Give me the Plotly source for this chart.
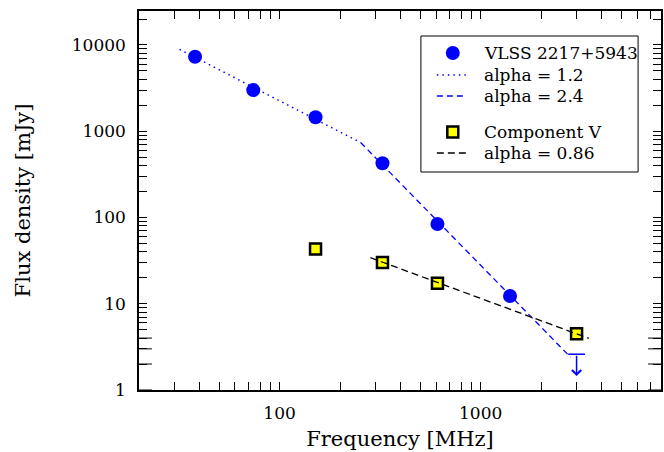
import math
import plotly.graph_objects as go

# ---- data ----
vlss_freq = [38, 74, 151, 325, 610, 1400]
vlss_flux = [7300, 3000, 1450, 425, 84, 12.3]

comp_freq = [151, 325, 610, 3000]
comp_flux = [43, 30, 17.3, 4.5]

limit_freq = [3000]
limit_flux = [2.6]
limit_arrow_to = [1.45]

fit12_freq = [31.8, 253]
fit12_flux = [8900, 740]
fit24_freq = [253, 2800]
fit24_flux = [740, 2.4]
fit086_freq = [283, 3450]
fit086_flux = [34.2, 3.97]

x_major = [100, 1000]
x_major_text = ["100", "1000"]
y_major = [1, 10, 100, 1000, 10000]
y_major_text = ["1", "10", "100", "1000", "10000"]

legend_labels = ["VLSS 2217+5943", "alpha = 1.2", "alpha = 2.4", "Component V", "alpha = 0.86"]

FONT = "DejaVu Serif"
BLUE = "#0000ff"
XR = [math.log10(20.0), 3.897]
YR = [0, 4.394]

# plot-area geometry in pixels (for legend box and long major ticks)
L, R, T, B = 139, 663, 11, 390
W, H = R - L, B - T
def px(x):
    return (x - L) / W
def py(y):
    return (B - y) / H

MAJOR_LEN, MINOR_LEN = 13, 8

# all tick positions (majors + minors) in range
def log_ticks(lo, hi):
    vals = []
    for k in range(int(math.floor(lo)) - 1, int(math.ceil(hi)) + 1):
        for m in range(1, 10):
            v = m * 10 ** k
            if lo - 1e-9 <= math.log10(v) <= hi + 1e-9:
                vals.append(v)
    return vals

x_all = log_ticks(*XR)
y_all = log_ticks(*YR)
x_text = [x_major_text[x_major.index(v)] if v in x_major else "" for v in x_all]
y_text = [y_major_text[y_major.index(v)] if v in y_major else "" for v in y_all]

styles = [
    dict(kind="marker", symbol="circle", size=14, color=BLUE, line=dict(width=0)),
    dict(kind="line", color=BLUE, width=1.5, dash="1.5px,4px"),
    dict(kind="line", color=BLUE, width=1.3, dash="6px,4px"),
    dict(kind="marker", symbol="square", size=11, color="#ffff00",
         line=dict(color="black", width=2.5)),
    dict(kind="line", color="black", width=1.3, dash="7px,4px"),
]

fig = go.Figure()

series = [(vlss_freq, vlss_flux), (fit12_freq, fit12_flux), (fit24_freq, fit24_flux),
          (comp_freq, comp_flux), (fit086_freq, fit086_flux)]
for (xs, ys), name, st in zip(series, legend_labels, styles):
    if st["kind"] == "marker":
        fig.add_trace(go.Scatter(
            x=xs, y=ys, mode="markers", name=name, showlegend=False,
            marker=dict(symbol=st["symbol"], size=st["size"], color=st["color"],
                        line=st["line"])))
    else:
        fig.add_trace(go.Scatter(
            x=xs, y=ys, mode="lines", name=name, showlegend=False,
            line=dict(color=st["color"], width=st["width"], dash=st["dash"])))

# upper limit: cap + arrow
fig.add_trace(go.Scatter(
    x=limit_freq, y=limit_flux, mode="markers", showlegend=False,
    marker=dict(symbol="line-ew", size=12, line=dict(color=BLUE, width=1.5))))
for f, top, bot in zip(limit_freq, limit_flux, limit_arrow_to):
    fig.add_annotation(
        x=math.log10(f), y=math.log10(bot), ax=math.log10(f), ay=math.log10(top),
        xref="x", yref="y", axref="x", ayref="y", text="", showarrow=True,
        arrowhead=4, arrowsize=1.2, arrowwidth=1.5, arrowcolor=BLUE)

axis_common = dict(
    showline=True, linecolor="black", linewidth=1.5, mirror="ticks",
    ticks="inside", ticklen=MINOR_LEN, tickwidth=1, tickcolor="black",
    showgrid=False, zeroline=False,
)

fig.update_layout(
    xaxis=dict(
        type="log", range=XR, tickmode="array", tickvals=x_all, ticktext=x_text,
        tickfont=dict(family=FONT, size=17, color="black"),
        title=dict(text="Frequency [MHz]", font=dict(family=FONT, size=21, color="black"),
                   standoff=9),
        ticklabelstandoff=7, **axis_common),
    yaxis=dict(
        type="log", range=YR, tickmode="array", tickvals=y_all, ticktext=y_text,
        tickfont=dict(family=FONT, size=17, color="black"),
        title=dict(text="Flux density [mJy]", font=dict(family=FONT, size=21, color="black"),
                   standoff=35),
        ticklabelstandoff=8, **axis_common),
)

# longer major ticks on all four sides
tick_line = dict(color="black", width=1)
for v in x_major:
    lv = math.log10(v)
    fig.add_shape(type="line", xref="x", yref="paper", x0=lv, x1=lv,
                  y0=0, y1=MAJOR_LEN / H, line=tick_line, layer="above")
    fig.add_shape(type="line", xref="x", yref="paper", x0=lv, x1=lv,
                  y0=1, y1=1 - MAJOR_LEN / H, line=tick_line, layer="above")
for v in y_major:
    lv = math.log10(v)
    fig.add_shape(type="line", xref="paper", yref="y", y0=lv, y1=lv,
                  x0=0, x1=MAJOR_LEN / W, line=tick_line, layer="above")
    fig.add_shape(type="line", xref="paper", yref="y", y0=lv, y1=lv,
                  x0=1, x1=1 - MAJOR_LEN / W, line=tick_line, layer="above")

# ---- hand-built legend (box, samples, labels) ----
box = dict(x0=422, x1=640, y0=36, y1=172)
row_y = [53, 75, 96, 132, 153]
samp_cx, samp_x0, samp_x1, text_x = 454, 438, 468, 483

fig.add_shape(type="rect", xref="paper", yref="paper",
              x0=px(box["x0"]), x1=px(box["x1"]), y0=py(box["y1"]), y1=py(box["y0"]),
              line=dict(color="black", width=1), fillcolor="white", layer="above")
for yy, name, st in zip(row_y, legend_labels, styles):
    if st["kind"] == "line":
        fig.add_shape(type="line", xref="paper", yref="paper",
                      x0=px(samp_x0), x1=px(samp_x1), y0=py(yy), y1=py(yy),
                      line=dict(color=st["color"], width=st["width"], dash=st["dash"]),
                      layer="above")
    elif st["symbol"] == "circle":
        r = st["size"] / 2
        fig.add_shape(type="circle", xref="paper", yref="paper",
                      x0=px(samp_cx - r), x1=px(samp_cx + r), y0=py(yy + r), y1=py(yy - r),
                      line=dict(width=0), fillcolor=st["color"], layer="above")
    else:
        h = st["size"] / 2
        fig.add_shape(type="rect", xref="paper", yref="paper",
                      x0=px(samp_cx - h), x1=px(samp_cx + h), y0=py(yy + h), y1=py(yy - h),
                      line=dict(color="black", width=2.5), fillcolor=st["color"],
                      layer="above")
    fig.add_annotation(x=px(text_x), y=py(yy), xref="paper", yref="paper",
                       text=name, showarrow=False, xanchor="left", yanchor="middle",
                       font=dict(family=FONT, size=17, color="black"))

fig.update_layout(
    width=664, height=452,
    margin=dict(l=L, r=664 - R, t=T, b=452 - B),
    plot_bgcolor="white", paper_bgcolor="white",
    font=dict(family=FONT, color="black"),
    showlegend=False,
)

fig.write_html("out.html")
